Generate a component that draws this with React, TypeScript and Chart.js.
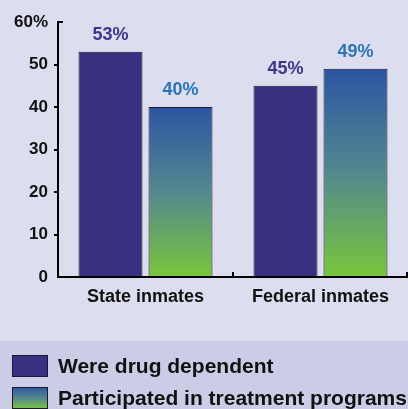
import React, { useEffect, useRef } from "react";
import { Chart, registerables } from "chart.js";

Chart.register(...registerables);

const categories = ["State inmates", "Federal inmates"];
const seriesLabels = ["Were drug dependent", "Participated in treatment programs"];
const drugDependent = [53, 45];
const participated = [40, 49];
const yMin = 0;
const yMax = 60;
const yStep = 10;

const FONT = "'Liberation Sans', Arial, Helvetica, sans-serif";
const BG = "#DCDDEF";
const BAND = "#CBCDE6";
const INDIGO = "#383182";
const GRAD_TOP = "#2D54A1";
const GRAD_MID = "#53898F";
const GRAD_BOT = "#79C63A";
const LABEL_COLORS = ["#3D388A", "#2C74B6"];

function makeGradient(c: CanvasRenderingContext2D, top: number, bottom: number) {
  const g = c.createLinearGradient(0, top, 0, bottom);
  g.addColorStop(0, GRAD_TOP);
  g.addColorStop(0.5, GRAD_MID);
  g.addColorStop(1, GRAD_BOT);
  return g;
}

const backgroundPlugin = {
  id: "bgPlugin",
  beforeDraw(chart: any) {
    const c = chart.ctx;
    c.save();
    c.fillStyle = BG;
    c.fillRect(0, 0, chart.width, chart.height);
    c.fillStyle = BAND;
    c.fillRect(0, 341, chart.width, chart.height - 341);
    c.restore();
  },
};

const decorPlugin = {
  id: "decorPlugin",
  afterDraw(chart: any) {
    const c = chart.ctx;
    const x = chart.scales.x;
    const y = chart.scales.y;
    c.save();
    c.strokeStyle = "#000";
    c.lineWidth = 2;
    // top tick of y axis pointing inward
    const topY = Math.round(y.getPixelForValue(yMax));
    c.beginPath();
    c.moveTo(x.left - 1, topY);
    c.lineTo(x.left + 5, topY);
    c.stroke();
    // small upward ticks at category boundaries on x axis
    const base = y.getPixelForValue(0);
    const boundaries = [
      (x.getPixelForValue(0) + x.getPixelForValue(1)) / 2,
      x.right - 1,
    ];
    boundaries.forEach((bx) => {
      c.beginPath();
      c.moveTo(Math.round(bx), base);
      c.lineTo(Math.round(bx), base - 5);
      c.stroke();
    });
    // value labels
    c.font = `bold 18px ${FONT}`;
    c.textAlign = "center";
    c.textBaseline = "middle";
    chart.data.datasets.forEach((ds: any, di: number) => {
      const meta = chart.getDatasetMeta(di);
      meta.data.forEach((bar: any, i: number) => {
        c.fillStyle = LABEL_COLORS[di];
        c.fillText(`${ds.data[i]}%`, bar.x, bar.y - 17);
      });
    });
    // legend
    const boxX = 12;
    const boxW = 36;
    const boxH = 22;
    const rows = [355, 387];
    c.textAlign = "left";
    c.font = `bold 21px ${FONT}`;
    chart.data.datasets.forEach((ds: any, di: number) => {
      const top = rows[di];
      c.fillStyle = di === 0 ? INDIGO : makeGradient(c, top, top + boxH);
      c.fillRect(boxX, top, boxW, boxH);
      c.strokeStyle = "#1a1a2a";
      c.lineWidth = 1;
      c.strokeRect(boxX + 0.5, top + 0.5, boxW - 1, boxH - 1);
      c.fillStyle = "#111";
      c.fillText(ds.label, 58, top + boxH / 2 + 1);
    });
    c.restore();
  },
};

export default function App() {
  const ref = useRef<HTMLCanvasElement | null>(null);

  useEffect(() => {
    if (!ref.current) return;
    const chart = new Chart(ref.current, {
      type: "bar",
      data: {
        labels: categories,
        datasets: [
          {
            label: seriesLabels[0],
            data: drugDependent,
            backgroundColor: INDIGO,
            borderColor: "#1a1a2a",
            borderWidth: 1,
            categoryPercentage: 0.8,
            barPercentage: 0.914,
          },
          {
            label: seriesLabels[1],
            data: participated,
            backgroundColor: (ctx: any) => {
              const ch = ctx.chart;
              if (!ch.chartArea || ctx.type !== "data") return GRAD_MID;
              const ys = ch.scales.y;
              const top = ys.getPixelForValue(ctx.raw);
              const bottom = ys.getPixelForValue(0);
              return makeGradient(ch.ctx, top, bottom);
            },
            borderColor: "#1a1a2a",
            borderWidth: 1,
            categoryPercentage: 0.8,
            barPercentage: 0.914,
          },
        ],
      },
      options: {
        responsive: false,
        animation: false,
        layout: { padding: { top: 22, left: 0, right: 0, bottom: 0 } },
        plugins: {
          legend: { display: false },
          tooltip: { enabled: false },
        },
        scales: {
          x: {
            grid: { display: false, drawTicks: false },
            border: { display: true, color: "#000", width: 2 },
            ticks: {
              color: "#111",
              padding: 9,
              font: { family: FONT, size: 18, weight: "bold" },
            },
            afterFit: (axis: any) => {
              axis.height = 132;
            },
          },
          y: {
            min: yMin,
            max: yMax,
            grid: {
              drawOnChartArea: false,
              drawTicks: true,
              tickLength: 4,
              color: (ctx: any) =>
                ctx.tick && (ctx.tick.value === yMin || ctx.tick.value === yMax)
                  ? "rgba(0,0,0,0)"
                  : "#000",
              lineWidth: 2,
            },
            border: { display: true, color: "#000", width: 2 },
            ticks: {
              stepSize: yStep,
              color: "#111",
              padding: 6,
              font: { family: FONT, size: 17, weight: "bold" },
              callback: (v: any) => (v === yMax ? `${v}%` : `${v}`),
            },
            afterFit: (axis: any) => {
              axis.width = 58;
            },
          },
        },
      },
      plugins: [backgroundPlugin, decorPlugin],
    } as any);
    return () => chart.destroy();
  }, []);

  return (
    <div style={{ position: "fixed", left: 0, top: 0, width: 408, height: 409 }}>
      <canvas ref={ref} width={408} height={409} style={{ display: "block" }} />
    </div>
  );
}
